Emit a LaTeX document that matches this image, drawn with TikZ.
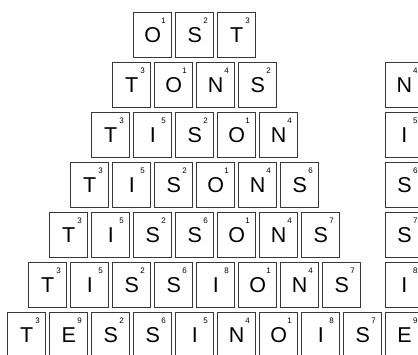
\documentclass[tikz,border=0pt]{standalone}
\usepackage{fontspec}
\setmainfont{Liberation Sans}
\usepackage{tikz}

\definecolor{tileedge}{HTML}{383838}
\tikzset{
  tile/.style={draw=tileedge, line width=0.9pt, rectangle, inner sep=0pt,
    minimum width=38pt, minimum height=44.5pt, anchor=north west,
    font=\fontsize{21.5}{25}\selectfont},
  score/.style={inner sep=0pt, font=\fontsize{8}{9}\selectfont}
}
% one row of the pyramid: #1 = row number, #2 = letter/score list
\newcommand{\tilerow}[2]{%
  \foreach \ch/\num [count=\c] in {#2} {
    \node[tile] (t#1-\c) at ({133.3-21*(#1-1)+42*(\c-1)},{12.3+50*(#1-1)}) {\ch};
    \node[score] (s#1-\c) at ([xshift=-8.5pt,yshift=-8pt]t#1-\c.north east) {\num};
  }%
}
% the new letter of a row, at the right edge
\newcommand{\newtile}[3]{%
  \node[tile] (n#1) at (385,{12.3+50*(#1-1)}) {#2};
  \node[score] (m#1) at ([xshift=-8.5pt,yshift=-8pt]n#1.north east) {#3};
}

\begin{document}
\begin{tikzpicture}[x=1pt,y=-1pt]
    \useasboundingbox (0,0) rectangle (418,354);
    \tilerow{1}{O/1,S/2,T/3}
    \tilerow{2}{T/3,O/1,N/4,S/2}
    \tilerow{3}{T/3,I/5,S/2,O/1,N/4}
    \tilerow{4}{T/3,I/5,S/2,O/1,N/4,S/6}
    \tilerow{5}{T/3,I/5,S/2,S/6,O/1,N/4,S/7}
    \tilerow{6}{T/3,I/5,S/2,S/6,I/8,O/1,N/4,S/7}
    \tilerow{7}{T/3,E/9,S/2,S/6,I/5,N/4,O/1,I/8,S/7}
    \newtile{2}{N}{4}
    \newtile{3}{I}{5}
    \newtile{4}{S}{6}
    \newtile{5}{S}{7}
    \newtile{6}{I}{8}
    \newtile{7}{E}{9}
  \end{tikzpicture}
\end{document}
